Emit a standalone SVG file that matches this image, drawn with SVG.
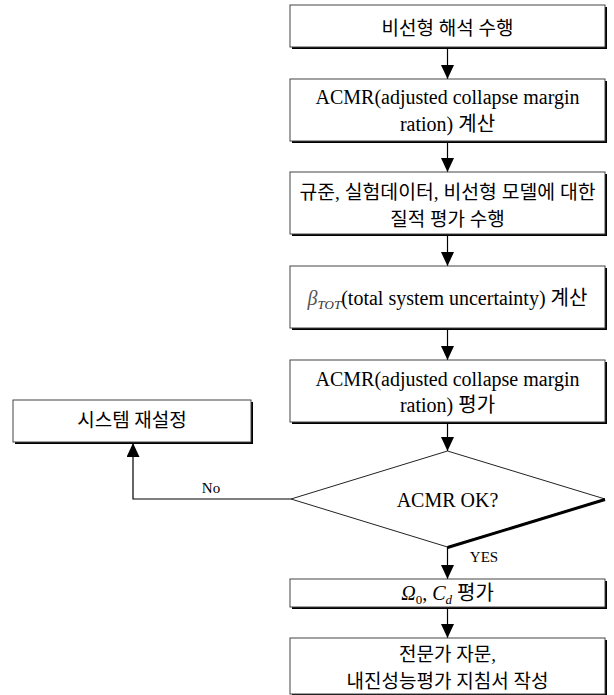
<svg xmlns="http://www.w3.org/2000/svg" width="614" height="695" viewBox="0 0 614 695">
<style>
.bg{fill:#fff}
.sh{fill:#000}
.bx{fill:#fff;stroke:#444;stroke-width:1}
.t{font-family:"Liberation Serif","Noto Sans CJK KR",serif;font-size:20px;fill:#000;text-anchor:middle}
.k{font-size:19px}
.s{font-family:"Liberation Serif",serif;font-size:15px;fill:#000}
.ln{fill:none;stroke:#000;stroke-width:1.2}
</style>
<defs>
<marker id="ah" markerUnits="userSpaceOnUse" markerWidth="15" markerHeight="14" refX="14" refY="6.5" orient="auto">
<path d="M0,0 L14,6.5 L0,13 z" fill="#000"/>
</marker>
</defs>
<rect class="bg" x="0" y="0" width="614" height="695"/>

<g id="connectors">
<line class="ln" x1="447.5" y1="48" x2="447.5" y2="79" marker-end="url(#ah)"/>
<line class="ln" x1="447.5" y1="142" x2="447.5" y2="172" marker-end="url(#ah)"/>
<line class="ln" x1="447.5" y1="235" x2="447.5" y2="266" marker-end="url(#ah)"/>
<line class="ln" x1="447.5" y1="329" x2="447.5" y2="360" marker-end="url(#ah)"/>
<line class="ln" x1="447.5" y1="423" x2="447.5" y2="451" marker-end="url(#ah)"/>
<line class="ln" x1="447.5" y1="547" x2="447.5" y2="579" marker-end="url(#ah)"/>
<line class="ln" x1="447.5" y1="608" x2="447.5" y2="638" marker-end="url(#ah)"/>
<polyline class="ln" points="291,499 133,499 133,443" marker-end="url(#ah)"/>
<text class="s" x="211" y="493" text-anchor="middle">No</text>
<text class="s" x="484" y="562" text-anchor="middle">YES</text>
</g>

<g id="n1">
<rect class="sh" x="292" y="7" width="315" height="42"/>
<rect class="bx" x="290" y="5" width="315" height="42"/>
<text class="t k" x="447.5" y="35">비선형 해석 수행</text>
</g>

<g id="n2">
<rect class="sh" x="292" y="81" width="315" height="62"/>
<rect class="bx" x="290" y="79" width="315" height="62"/>
<text class="t" x="447.5" y="104">ACMR(adjusted collapse margin</text>
<text class="t" x="447.5" y="131">ration) 계산</text>
</g>

<g id="n3">
<rect class="sh" x="292" y="174" width="315" height="62"/>
<rect class="bx" x="290" y="172" width="315" height="62"/>
<text class="t k" x="447.5" y="199" textLength="296" lengthAdjust="spacingAndGlyphs">규준, 실험데이터, 비선형 모델에 대한</text>
<text class="t k" x="447.5" y="226">질적 평가 수행</text>
</g>

<g id="n4">
<rect class="sh" x="292" y="268" width="315" height="62"/>
<rect class="bx" x="290" y="266" width="315" height="62"/>
<text class="t" x="447.5" y="305"><tspan font-style="italic" fill="#555">β</tspan><tspan font-style="italic" font-size="13" dy="4" fill="#333">TOT</tspan><tspan dy="-4">(total system uncertainty) 계산</tspan></text>
</g>

<g id="n5">
<rect class="sh" x="292" y="362" width="315" height="62"/>
<rect class="bx" x="290" y="360" width="315" height="62"/>
<text class="t" x="447.5" y="386">ACMR(adjusted collapse margin</text>
<text class="t" x="447.5" y="412">ration) 평가</text>
</g>

<g id="n6">
<polygon points="447.5,451 605,499 447.5,547 291,499" fill="#fff" stroke="#222" stroke-width="1"/>
<line x1="605" y1="499.5" x2="447.5" y2="547.5" stroke="#000" stroke-width="3"/>
<text class="t" x="447.5" y="507">ACMR OK?</text>
</g>

<g id="n7">
<rect class="sh" x="292" y="581" width="315" height="28"/>
<rect class="bx" x="290" y="579" width="315" height="28"/>
<text class="t" x="447.5" y="600"><tspan font-style="italic">Ω</tspan><tspan font-size="13" dy="4">0</tspan><tspan dy="-4">, </tspan><tspan font-style="italic">C</tspan><tspan font-style="italic" font-size="13" dy="4">d</tspan><tspan dy="-4"> 평가</tspan></text>
</g>

<g id="n8">
<rect class="sh" x="292" y="640" width="315" height="56"/>
<rect class="bx" x="290" y="638" width="315" height="56"/>
<text class="t k" x="447.5" y="661">전문가 자문,</text>
<text class="t k" x="447.5" y="688">내진성능평가 지침서 작성</text>
</g>

<g id="n9">
<rect class="sh" x="15" y="402" width="238" height="42"/>
<rect class="bx" x="13" y="400" width="238" height="42"/>
<text class="t k" x="132" y="427">시스템 재설정</text>
</g>
</svg>
